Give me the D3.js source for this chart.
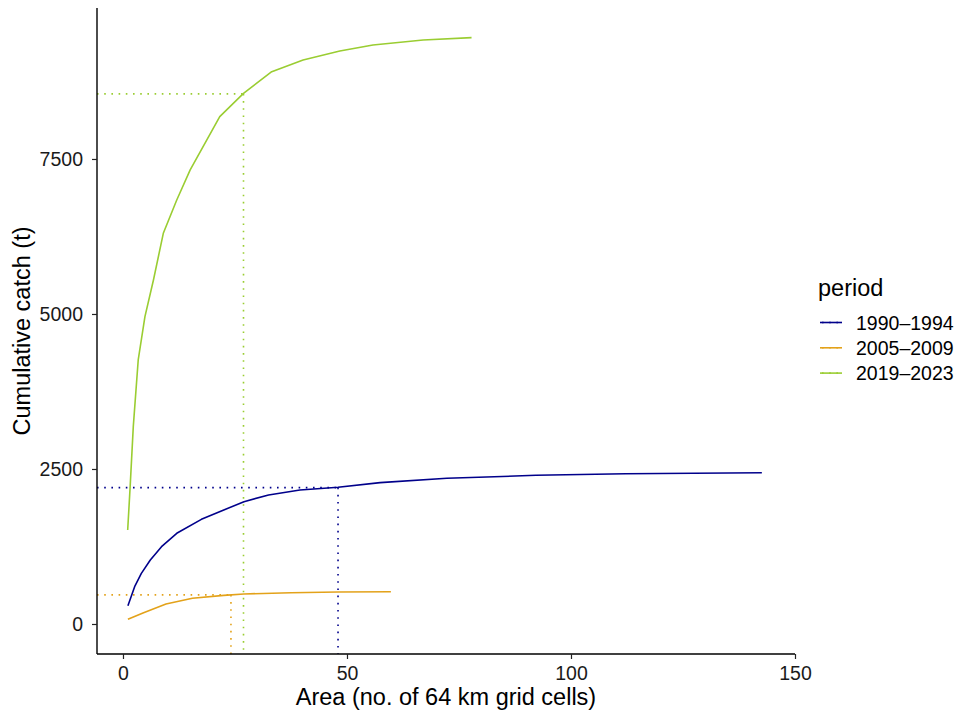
<!DOCTYPE html>
<html>
<head>
<meta charset="utf-8">
<script src="https://cdn.jsdelivr.net/npm/d3@7"></script>
<style>
  body { margin: 0; background: #fff; }
  svg { display: block; font-family: "Liberation Sans", Arial, sans-serif; }
</style>
</head>
<body>
<svg id="chart" width="963" height="715"></svg>
<script>
// ---- data ----
const periods = ["1990\u20131994", "2005\u20132009", "2019\u20132023"];
const colors = ["#00008B", "#E3A21A", "#9ACD32"];

const areaA = [1.1, 2.6, 4.1, 6.1, 8.6, 12.0, 17.5, 22.5, 27, 32.5, 39.5, 48, 57.4, 72.3, 92.2, 112.2, 142.6];
const catchA = [295, 602, 817, 1032, 1247, 1463, 1688, 1839, 1973, 2081, 2161, 2205, 2280, 2350, 2398, 2424, 2440];

const areaB = [1.1, 4.6, 9.6, 15.5, 22.5, 27, 37.5, 48, 59.8];
const catchB = [75, 183, 323, 414, 462, 484, 505, 516, 521];

const areaC = [1.05, 1.6, 2.3, 3.4, 4.9, 6.8, 9.0, 12, 15, 21.6, 26.9, 33.2, 40.2, 48.4, 55.8, 67, 77.8];
const catchC = [1516, 2215, 3183, 4258, 4957, 5548, 6301, 6839, 7323, 8182, 8559, 8908, 9097, 9242, 9339, 9419, 9457];

// 90% reference points (area, catch)
const refArea = [48, 24.1, 26.9];
const refCatch = [2200, 470, 8550];

const xTicks = [0, 50, 100, 150];
const yTicks = [0, 2500, 5000, 7500];

const seriesX = [areaA, areaB, areaC];
const seriesY = [catchA, catchB, catchC];

// ---- layout ----
const svg = d3.select("#chart");
const pL = 97, pR = 795, pT = 8, pB = 654;
const tickFont = 19.5, titleFont = 23.5;

const x = d3.scaleLinear().domain([-5.8, 150]).range([pL, pR]);
const y = d3.scaleLinear().domain([-484, 9935]).range([pB, pT]);

const line = d3.line().x(d => x(d[0])).y(d => y(d[1]));

// reference dotted lines
periods.forEach((p, i) => {
  const g = svg.append("g");
  g.append("line")
    .attr("x1", pL).attr("x2", x(refArea[i]))
    .attr("y1", y(refCatch[i])).attr("y2", y(refCatch[i]))
    .attr("stroke", colors[i]).attr("stroke-width", 1.6)
    .attr("stroke-dasharray", "1.6,5.6");
  g.append("line")
    .attr("x1", x(refArea[i])).attr("x2", x(refArea[i]))
    .attr("y1", y(refCatch[i])).attr("y2", pB)
    .attr("stroke", colors[i]).attr("stroke-width", 1.6)
    .attr("stroke-dasharray", "1.6,5.6");
});

// curves
periods.forEach((p, i) => {
  const pts = seriesX[i].map((v, k) => [v, seriesY[i][k]]);
  svg.append("path")
    .datum(pts)
    .attr("d", line)
    .attr("fill", "none")
    .attr("stroke", colors[i])
    .attr("stroke-width", 1.6)
    .attr("stroke-linejoin", "round");
});

// axes
const fmt = d3.format("d");
const xAxis = svg.append("g")
  .attr("transform", `translate(0,${pB})`)
  .call(d3.axisBottom(x).tickValues(xTicks).tickFormat(fmt).tickSize(5).tickPadding(7).tickSizeOuter(0));
const yAxis = svg.append("g")
  .attr("transform", `translate(${pL},0)`)
  .call(d3.axisLeft(y).tickValues(yTicks).tickFormat(fmt).tickSize(5).tickPadding(9).tickSizeOuter(0));

[xAxis, yAxis].forEach(a => {
  a.select(".domain").attr("stroke", "#000").attr("stroke-width", 1.4);
  a.selectAll(".tick line").attr("stroke", "#222").attr("stroke-width", 1.2);
  a.selectAll(".tick text").attr("fill", "#1a1a1a").attr("font-size", tickFont)
    .attr("font-family", "Liberation Sans, Arial, sans-serif");
});
xAxis.select(".domain").attr("d", `M${pL},0H${pR}`);
yAxis.select(".domain").attr("d", `M0,${pT}V${pB}`);

// axis titles
svg.append("text")
  .attr("x", (pL + pR) / 2).attr("y", 705)
  .attr("text-anchor", "middle").attr("font-size", titleFont).attr("fill", "#000")
  .text("Area (no. of 64 km grid cells)");
svg.append("text")
  .attr("transform", `translate(29.5,${(pT + pB) / 2}) rotate(-90)`)
  .attr("text-anchor", "middle").attr("font-size", titleFont).attr("fill", "#000")
  .text("Cumulative catch (t)");

// legend
const lg = svg.append("g");
lg.append("text").attr("x", 818).attr("y", 296).attr("font-size", titleFont).attr("fill", "#000").text("period");
periods.forEach((p, i) => {
  const yy = 322.5 + i * 25.3;
  lg.append("line").attr("x1", 820).attr("x2", 842).attr("y1", yy).attr("y2", yy)
    .attr("stroke", colors[i]).attr("stroke-width", 1.6);
  lg.append("line").attr("x1", 820).attr("x2", 842).attr("y1", yy).attr("y2", yy)
    .attr("stroke", colors[i]).attr("stroke-width", 1.6).attr("stroke-dasharray", "1.6,5.6")
    .attr("stroke-dashoffset", -2);
  lg.append("text").attr("x", 856).attr("y", yy + 7).attr("font-size", tickFont).attr("fill", "#000").text(p);
});
</script>
</body>
</html>
